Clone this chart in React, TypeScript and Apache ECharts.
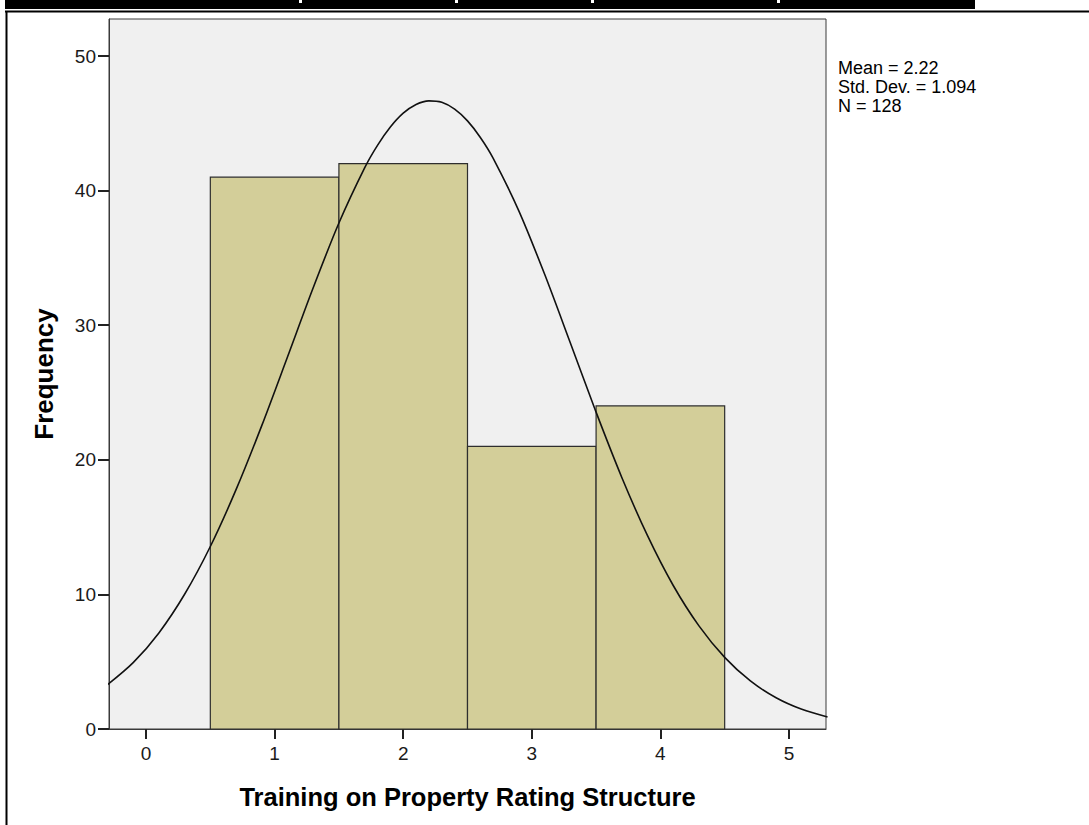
import React, { useEffect, useRef } from "react";
import * as echarts from "echarts";

// Histogram bins: [lower edge, upper edge, frequency]
const binLower = [0.5, 1.5, 2.5, 3.5];
const binUpper = [1.5, 2.5, 3.5, 4.5];
const frequencies = [41, 42, 21, 24];

// Normal curve (x, frequency)
const curveX = [-0.3, -0.1, 0.1, 0.3, 0.5, 0.7, 0.9, 1.1, 1.3, 1.5, 1.7, 1.8, 1.9, 2.0, 2.1, 2.2, 2.3, 2.4, 2.5, 2.6, 2.7, 2.9, 3.1, 3.3, 3.5, 3.7, 3.9, 4.1, 4.3, 4.5, 4.7, 4.9, 5.1, 5.3];
const curveY = [3.29, 4.93, 7.14, 10.01, 13.56, 17.78, 22.54, 27.64, 32.78, 37.59, 41.69, 43.36, 44.72, 45.75, 46.4, 46.67, 46.56, 46.05, 45.18, 43.95, 42.4, 38.48, 33.78, 28.68, 23.54, 18.69, 14.36, 10.66, 7.66, 5.32, 3.57, 2.32, 1.46, 0.89];

const xTicks = [0, 1, 2, 3, 4, 5];
const yTicks = [0, 10, 20, 30, 40, 50];
const statsLines = ["Mean = 2.22", "Std. Dev. = 1.094", "N = 128"];

const FONT = 'Arial, "Liberation Sans", sans-serif';

export default function App() {
  const ref = useRef<HTMLDivElement>(null);

  useEffect(() => {
    if (!ref.current) return;
    const chart = echarts.init(ref.current, undefined, { renderer: "svg" });
    const barData = binLower.map((lo, i) => [lo, binUpper[i], frequencies[i]]);
    const lineData = curveX.map((x, i) => [x, curveY[i]]);

    chart.setOption({
      animation: false,
      backgroundColor: "#ffffff",
      grid: {
        left: 109,
        top: 19,
        width: 717,
        height: 710,
        show: true,
        backgroundColor: "#f0f0f0",
        borderColor: "#3a3a3a",
        borderWidth: 1,
      },
      xAxis: {
        type: "value",
        min: -0.288,
        max: 5.288,
        name: "Training on Property Rating Structure",
        nameLocation: "middle",
        nameGap: 55,
        nameTextStyle: { fontFamily: FONT, fontSize: 25.5, fontWeight: "bold", color: "#000" },
        splitLine: { show: false },
        axisLine: { show: true, onZero: false, lineStyle: { color: "#3a3a3a", width: 1 } },
        axisTick: { show: true, length: 10, lineStyle: { color: "#222", width: 2 }, customValues: xTicks },
        axisLabel: { fontFamily: FONT, fontSize: 19, color: "#1a1a1a", margin: 15, customValues: xTicks },
      },
      yAxis: {
        type: "value",
        min: 0,
        max: 52.75,
        name: "Frequency",
        nameLocation: "middle",
        nameRotate: 90,
        nameGap: 52,
        nameTextStyle: { fontFamily: FONT, fontSize: 26, fontWeight: "bold", color: "#000" },
        splitLine: { show: false },
        axisLine: { show: true, onZero: false, lineStyle: { color: "#3a3a3a", width: 1 } },
        axisTick: { show: true, length: 11, lineStyle: { color: "#222", width: 2 }, customValues: yTicks },
        axisLabel: { fontFamily: FONT, fontSize: 19, color: "#1a1a1a", margin: 13, customValues: yTicks },
      },
      series: [
        {
          type: "custom",
          data: barData,
          encode: { x: [0, 1], y: 2 },
          z: 2,
          renderItem: (params: any, api: any) => {
            const p0 = api.coord([api.value(0), api.value(2)]);
            const p1 = api.coord([api.value(1), 0]);
            return {
              type: "rect",
              shape: { x: p0[0], y: p0[1], width: p1[0] - p0[0], height: p1[1] - p0[1] },
              style: { fill: "#d3ce99", stroke: "#2e2e2e", lineWidth: 1.2 },
            };
          },
        },
        {
          type: "line",
          data: lineData,
          smooth: 0.3,
          showSymbol: false,
          z: 3,
          lineStyle: { color: "#111", width: 1.6 },
        },
      ],
      graphic: [
        { type: "rect", shape: { x: 5, y: 0, width: 970, height: 9 }, style: { fill: "#000" } },
        { type: "rect", shape: { x: 299, y: 0, width: 3, height: 3 }, style: { fill: "#fff" } },
        { type: "rect", shape: { x: 455, y: 0, width: 3, height: 3 }, style: { fill: "#fff" } },
        { type: "rect", shape: { x: 591, y: 0, width: 3, height: 3 }, style: { fill: "#fff" } },
        { type: "rect", shape: { x: 777, y: 0, width: 3, height: 3 }, style: { fill: "#fff" } },
        { type: "line", shape: { x1: 5, y1: 11.5, x2: 1089, y2: 11.5 }, style: { stroke: "#000", lineWidth: 2 } },
        { type: "line", shape: { x1: 6.5, y1: 11, x2: 6.5, y2: 825 }, style: { stroke: "#000", lineWidth: 2 } },
        ...statsLines.map((t, i) => ({
          type: "text",
          x: 838,
          y: 68 + i * 19,
          style: { text: t, fontFamily: FONT, fontSize: 18, fill: "#000", textVerticalAlign: "middle" },
        })),
      ],
    });
    return () => chart.dispose();
  }, []);

  return (
    <div
      ref={ref}
      style={{ position: "absolute", left: 0, top: 0, width: 1089, height: 825 }}
    />
  );
}
